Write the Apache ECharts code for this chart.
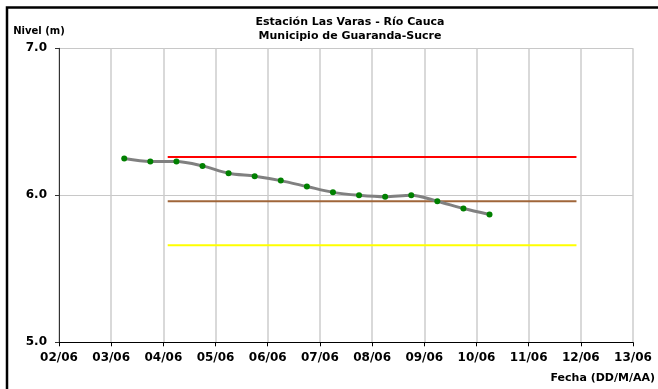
<!DOCTYPE html>
<html>
<head>
<meta charset="utf-8">
<script src="https://cdn.jsdelivr.net/npm/echarts@6/dist/echarts.min.js"></script>
<style>
html,body{margin:0;padding:0;background:#fff;}
#chart{width:658px;height:389px;}
</style>
</head>
<body>
<div id="chart"></div>
<script>
// Data (dates DD/MM HH:MM, June)
const fechas = ['03/06 06:00','03/06 18:00','04/06 06:00','04/06 18:00','05/06 06:00','05/06 18:00','06/06 06:00','06/06 18:00','07/06 06:00','07/06 18:00','08/06 06:00','08/06 18:00','09/06 06:00','09/06 18:00','10/06 06:00'];
const niveles = [6.25,6.23,6.23,6.20,6.15,6.13,6.10,6.06,6.02,6.00,5.99,6.00,5.96,5.91,5.87];
const umbralFechas = ['04/06 02:00','11/06 22:00'];
const umbralRojo = 6.26;
const umbralNaranja = 5.96;
const umbralAmarillo = 5.66;
const etiquetasX = ['02/06','03/06','04/06','05/06','06/06','07/06','08/06','09/06','10/06','11/06','12/06','13/06'];
const etiquetasY = ['5.0','6.0','7.0'];

function toDay(s){
  const [dm, hm] = s.split(' ');
  const d = parseInt(dm.split('/')[0],10);
  const [h,m] = hm.split(':').map(Number);
  return d + (h + m/60)/24;
}
const xMin = 2, xMax = 13;

const FONT = 'DejaVu Sans';
const chart = echarts.init(document.getElementById('chart'), null, {renderer:'canvas'});
const lineUmbral = (val, color) => ({
  type:'line', data: umbralFechas.map(f => [toDay(f), val]),
  symbol:'none', lineStyle:{color:color, width:2}, silent:true, z:2
});
chart.setOption({
  animation:false,
  backgroundColor:'#ffffff',
  title:{
    text:'Estación Las Varas - Río Cauca\nMunicipio de Guaranda-Sucre',
    left:350, top:14.5, textAlign:'center', padding:0,
    textStyle:{fontFamily:FONT, fontWeight:'bold', fontSize:11, lineHeight:14.3, color:'#000'}
  },
  grid:{left:59, right:24, top:48.3, bottom:46.7, containLabel:false},
  xAxis:{
    type:'value', min:xMin, max:xMax, interval:1,
    name:'Fecha (DD/M/AA)', nameLocation:'end', nameGap:22,
    nameTextStyle:{fontFamily:FONT, fontWeight:'bold', fontSize:11, color:'#000', align:'right', verticalAlign:'top', padding:[30,0,0,0]},
    axisLine:{show:true, lineStyle:{color:'#000', width:1}},
    axisTick:{show:true, inside:false, length:4, lineStyle:{color:'#000'}},
    axisLabel:{fontFamily:FONT, fontWeight:'bold', fontSize:12, color:'#000', margin:10,
      formatter: v => etiquetasX[Math.round(v - xMin)] || ''},
    splitLine:{show:true, lineStyle:{color:'#cccccc', width:1.5}}
  },
  yAxis:{
    type:'value', min:5, max:7, interval:1,
    name:'Nivel (m)', nameLocation:'end', nameGap:16.6,
    nameTextStyle:{fontFamily:FONT, fontWeight:'bold', fontSize:10, color:'#000', align:'center', verticalAlign:'middle', padding:[0,40,0,0]},
    axisLine:{show:true, lineStyle:{color:'#333', width:1}},
    axisTick:{show:true, inside:false, length:4, lineStyle:{color:'#333'}},
    axisLabel:{fontFamily:FONT, fontWeight:'bold', fontSize:12, color:'#000', margin:12,
      formatter: v => etiquetasY[Math.round(v - 5)] || ''},
    splitLine:{show:true, lineStyle:{color:'#c8c8c8', width:1}}
  },
  graphic:[{
    type:'polyline', silent:true,
    shape:{points:[[7,389],[7,7.5],[658,7.5]]},
    style:{stroke:'#000', lineWidth:2.5, fill:null}
  }],
  series:[
    lineUmbral(umbralRojo, '#ff0000'),
    lineUmbral(umbralNaranja, '#a0663a'),
    lineUmbral(umbralAmarillo, '#ffff00'),
    {
      type:'line', z:3,
      data: fechas.map((f,i) => [toDay(f), niveles[i]]),
      smooth:0.3,
      symbol:'circle', symbolSize:6,
      lineStyle:{color:'#808080', width:3},
      itemStyle:{color:'#008000', borderWidth:0}
    }
  ]
});
</script>
</body>
</html>
